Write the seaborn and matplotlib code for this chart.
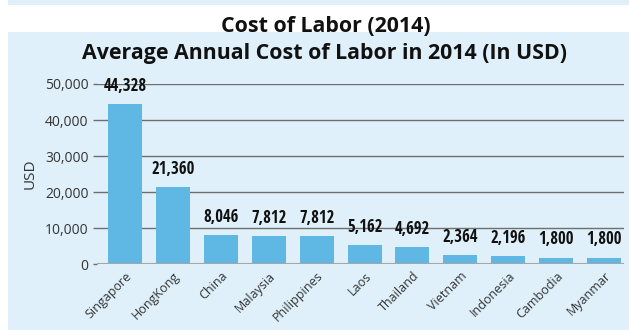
import matplotlib
matplotlib.use("Agg")
import matplotlib.pyplot as plt
from matplotlib.patches import Rectangle
import seaborn as sns
import pandas as pd

countries = ["Singapore", "HongKong", "China", "Malaysia", "Philippines", "Laos",
             "Thailand", "Vietnam", "Indonesia", "Cambodia", "Myanmar"]
labor_cost = [44328, 21360, 8046, 7812, 7812, 5162, 4692, 2364, 2196, 1800, 1800]
y_ticks = [0, 10000, 20000, 30000, 40000, 50000]

title = "Cost of Labor (2014)"
subtitle = "Average Annual Cost of Labor in 2014 (In USD)"
y_label = "USD"

PANEL = "#DFF0FA"
BAR = "#5FB7E3"
TEXT = "#333333"

sns.set_theme(style="white")
plt.rcParams["font.family"] = ["Open Sans", "DejaVu Sans"]

W, H = 629, 331
fig = plt.figure(figsize=(W / 100, H / 100), dpi=100)
fig.patch.set_facecolor("white")

# background panels: thin strip on top, main panel below the title
fig.add_artist(Rectangle((8 / W, 1 - 5 / H), 1 - 8 / W, 5 / H,
                         transform=fig.transFigure, facecolor=PANEL,
                         edgecolor="none", zorder=0))
fig.add_artist(Rectangle((8 / W, 1 / H), 1 - 8 / W, (H - 32 - 1) / H,
                         transform=fig.transFigure, facecolor=PANEL,
                         edgecolor="none", zorder=0))

fig.text(326 / W, 1 - 31.5 / H, title, ha="center", va="baseline",
         fontsize=15.4, fontweight="bold", color="#111111")
fig.text(325 / W, 1 - 59.3 / H, subtitle, ha="center", va="baseline",
         fontsize=15.4, fontweight="bold", color="#111111")

ax = fig.add_axes([97 / W, (H - 264) / H, (624 - 97) / W, (264 - 84) / H])
ax.set_facecolor("none")

df = pd.DataFrame({"country": countries, "cost": labor_cost})
sns.barplot(data=df, x="country", y="cost", color=BAR, saturation=1,
            width=0.71, linewidth=0, ax=ax, zorder=3)

ax.set_ylim(0, 50000)
# bars sit slightly right of the grid's left end
ax.set_xlim(-0.585, len(countries) - 0.585)
ax.set_yticks(y_ticks)
ax.set_yticklabels([f"{v:,}" for v in y_ticks], fontsize=10, color=TEXT)
for v in y_ticks[1:]:
    ax.axhline(v, color="#6E6E6E", lw=1.0, zorder=1)
ax.axhline(0, color="#A6A6A6", lw=2.2, zorder=4)
for s in ax.spines.values():
    s.set_visible(False)
ax.tick_params(axis="y", length=3, width=1, color="#6E6E6E", pad=3, left=True)
ax.tick_params(axis="x", length=0, pad=4)
ax.set_xticks(range(len(countries)))
ax.set_xticklabels(countries, rotation=45, ha="right", rotation_mode="anchor",
                   fontsize=9, color=TEXT)
ax.set_xlabel("")
ax.set_ylabel(y_label, fontsize=11, color=TEXT, labelpad=5)

for i, v in enumerate(labor_cost):
    ax.annotate(f"{v:,}", (i, v), xytext=(0, 9.5), textcoords="offset points",
                ha="center", va="baseline", fontsize=12, fontweight="bold",
                family=["Open Sans Condensed", "Roboto Condensed",
                        "Liberation Sans Narrow", "Roboto"],
                color="#111111", zorder=5)

fig.savefig("out.png", dpi=100)
